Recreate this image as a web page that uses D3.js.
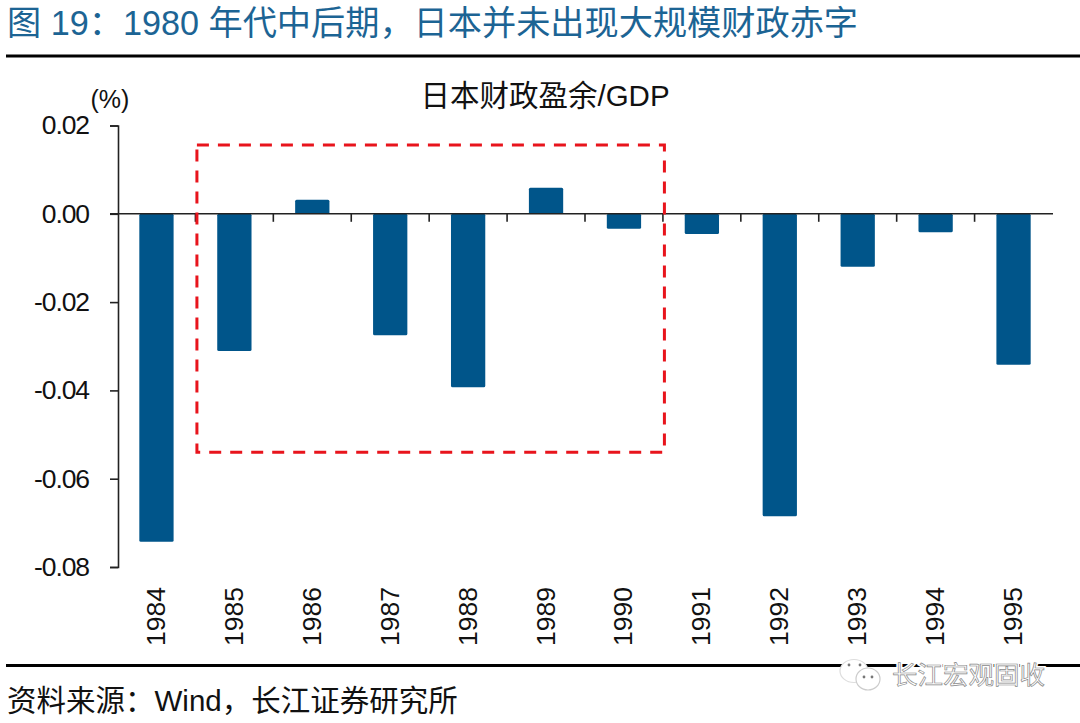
<!DOCTYPE html>
<html><head><meta charset="utf-8">
<script src="https://cdn.jsdelivr.net/npm/d3@7"></script>
<style>
html,body{margin:0;padding:0;background:#fff}
svg{display:block}
text{font-family:"Liberation Sans","Noto Sans CJK SC",sans-serif}
</style></head><body>
<svg id="c" width="1080" height="723"></svg>
<script>
const years = ["1984","1985","1986","1987","1988","1989","1990","1991","1992","1993","1994","1995"];
const balance = [-0.0743,-0.0311,0.0032,-0.0275,-0.0393,0.0059,-0.0034,-0.0046,-0.0685,-0.012,-0.0042,-0.0342];
const yTicks = [0.02,0,-0.02,-0.04,-0.06,-0.08];
const highlightYears = ["1985","1990"];
const highlightRange = [0.0156,-0.0540];
const titleText = "图 19：1980 年代中后期，日本并未出现大规模财政赤字";
const chartTitle = "日本财政盈余/GDP";
const unitText = "(%)";
const sourceText = "资料来源：Wind，长江证券研究所";
const watermarkText = "长江宏观固收";

const svg = d3.select("#c");
const x = d3.scaleBand().domain(years).range([117.5,1052.5]).paddingInner(0.56).paddingOuter(0.28);
const step = x.step();
const y = d3.scaleLinear().domain([0.02,-0.08]).range([125.5,567]);

svg.append("text").attr("x",7).attr("y",35).attr("font-size",34.2).attr("fill","#1c6494").text(titleText);
svg.append("line").attr("x1",6).attr("x2",1080).attr("y1",56).attr("y2",56).attr("stroke","#000").attr("stroke-width",3);
svg.append("line").attr("x1",6).attr("x2",1080).attr("y1",665.5).attr("y2",665.5).attr("stroke","#000").attr("stroke-width",3);
svg.append("text").attr("x",545).attr("y",106).attr("text-anchor","middle").attr("font-size",29.5).attr("fill","#111").text(chartTitle);
svg.append("text").attr("x",110).attr("y",108).attr("text-anchor","middle").attr("font-size",25).attr("fill","#111").text(unitText);
svg.append("text").attr("x",7).attr("y",711).attr("font-size",29.5).attr("fill","#111").text(sourceText);

// bars
svg.append("g").selectAll("rect").data(years).join("rect")
  .attr("x",d=>x(d)).attr("width",x.bandwidth())
  .attr("y",(d,i)=>y(Math.max(0,balance[i])))
  .attr("height",(d,i)=>Math.abs(y(balance[i])-y(0)))
  .attr("rx",1.5).attr("fill","#00558a");

// y axis
const ya = svg.append("g").attr("transform","translate(118,0)")
  .call(d3.axisLeft(y).tickValues(yTicks).tickSize(8).tickPadding(21).tickFormat(d3.format(".2f")));
ya.select(".domain").attr("stroke","#222").attr("stroke-width",1.6);
ya.selectAll(".tick line").attr("stroke","#222").attr("stroke-width",1.6);
ya.selectAll(".tick text").attr("font-size",26.5).attr("letter-spacing",-1.1).attr("fill","#111")
  .style("font-family",'"Liberation Sans",sans-serif').text(d=>d3.format(".2f")(d).replace("−","-"));

// x axis at zero
const xa = svg.append("g").attr("transform",`translate(0,${y(0)})`);
xa.append("line").attr("x1",110).attr("x2",1053).attr("stroke","#222").attr("stroke-width",1.6);
xa.selectAll("line.t").data(years.slice(1)).join("line").attr("class","t")
  .attr("x1",d=>x(d)-(step-x.bandwidth())/2).attr("x2",d=>x(d)-(step-x.bandwidth())/2)
  .attr("y1",0).attr("y2",8).attr("stroke","#222").attr("stroke-width",1.6);

// rotated year labels
svg.append("g").selectAll("text").data(years).join("text")
  .attr("transform",d=>`translate(${x(d)+x.bandwidth()/2+8.5},646) rotate(-90)`)
  .attr("font-size",26.5).attr("fill","#111").attr("text-anchor","start").text(d=>d);

// highlight box
const bx0 = x(highlightYears[0])-(step-x.bandwidth())/2 + 1.5;
const bx1 = x(highlightYears[1])+x.bandwidth()+(step-x.bandwidth())/2 + 1.5;
svg.append("rect").attr("x",bx0).attr("y",y(highlightRange[0]))
  .attr("width",bx1-bx0).attr("height",y(highlightRange[1])-y(highlightRange[0]))
  .attr("fill","none").attr("stroke","#e8141c").attr("stroke-width",3).attr("stroke-dasharray","12 9");

// watermark
const wm = svg.append("g");
wm.append("text").attr("x",892).attr("y",684).attr("font-size",25.5).attr("fill","#fff")
  .attr("stroke","#fff").attr("stroke-width",4).attr("paint-order","stroke").text(watermarkText);
wm.append("text").attr("x",892).attr("y",684).attr("font-size",25.5).attr("fill","#fff")
  .attr("stroke","#888").attr("stroke-width",0.7).text(watermarkText);
wm.append("ellipse").attr("cx",854).attr("cy",671).attr("rx",14).attr("ry",11.5).attr("fill","#fff").attr("stroke","#ddd").attr("stroke-width",1.2);
wm.append("ellipse").attr("cx",868).attr("cy",679).attr("rx",12).attr("ry",11).attr("fill","#fff").attr("stroke","#ccc").attr("stroke-width",1.2);
[[849,665],[860,665],[864,677],[872,677]].forEach(p=>wm.append("circle").attr("cx",p[0]).attr("cy",p[1]).attr("r",1.4).attr("fill","#777"));
</script>
</body></html>
